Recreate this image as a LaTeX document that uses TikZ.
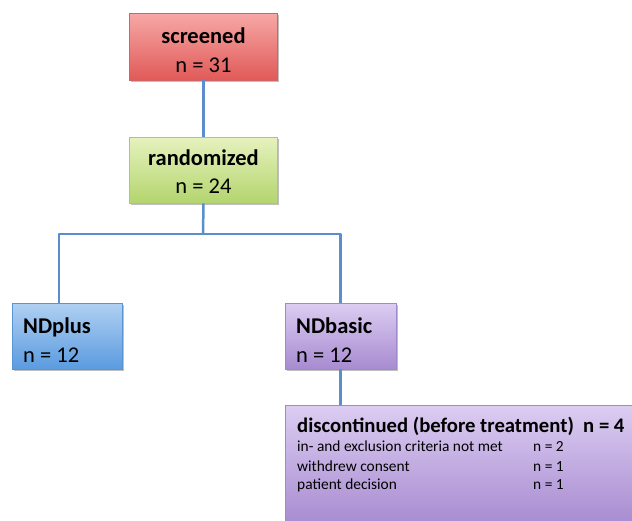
\documentclass[tikz,border=0pt]{standalone}
\usepackage{fontspec}
\setmainfont{Carlito}
\usetikzlibrary{shadows}
\definecolor{redtop}{HTML}{F7A8A6}
\definecolor{redbot}{HTML}{E05A58}
\definecolor{redbd}{HTML}{D06462}
\definecolor{grntop}{HTML}{E6F2BE}
\definecolor{grnbot}{HTML}{B3D56E}
\definecolor{grnbd}{HTML}{AACB68}
\definecolor{blutop}{HTML}{B0D0F2}
\definecolor{blubot}{HTML}{5B9BE0}
\definecolor{blubd}{HTML}{5A94D2}
\definecolor{purtop}{HTML}{DCCDF2}
\definecolor{purbot}{HTML}{A78BD0}
\definecolor{purbd}{HTML}{A088CA}
\definecolor{linkc}{HTML}{5A8FCB}
\tikzset{
  box/.style={rectangle, inner sep=0pt, line width=0.6pt,
    drop shadow={shadow xshift=1.5pt, shadow yshift=-2pt, fill=black, opacity=0.25}},
  redbox/.style={box, draw=redbd, top color=redtop, bottom color=redbot},
  grnbox/.style={box, draw=grnbd, top color=grntop, bottom color=grnbot},
  blubox/.style={box, draw=blubd, top color=blutop, bottom color=blubot},
  purbox/.style={box, draw=purbd, top color=purtop, bottom color=purbot},
  link/.style={draw=linkc, line width=2.5pt},
  big/.style={font=\fontsize{22.5}{27}\selectfont, inner sep=0pt},
  bigb/.style={font=\fontsize{22.5}{27}\selectfont\bfseries, inner sep=0pt},
  midb/.style={font=\fontsize{20.7}{25}\selectfont\bfseries, inner sep=0pt},
  small/.style={font=\fontsize{15.4}{18}\selectfont, inner sep=0pt},
}
\begin{document}
\begin{tikzpicture}[x=1pt,y=-1pt]
\useasboundingbox (0,0) rectangle (632,520);
% boxes
\node[redbox, minimum width=148pt, minimum height=67pt] (scr) at (203.5,46.5) {};
\node[grnbox, minimum width=148pt, minimum height=66pt] (rand) at (203.5,170) {};
\node[blubox, minimum width=110pt, minimum height=66pt] (plus) at (67,336) {};
\node[purbox, minimum width=111pt, minimum height=66pt] (basic) at (340.5,336) {};
\node[purbox, minimum width=352pt, minimum height=120pt] (disc) at (461,465) {};
% connectors
\coordinate (split) at (203,234);
\coordinate (lefttop) at (59,303);
\draw[link] (scr.south) -- (rand.north);
\draw[link] (rand.south) -- (split);
\draw[link, line join=round] (split) -| (lefttop);
\draw[link, line join=round] (split) -| (basic.north);
\draw[link] (basic.south) -- (basic.south |- disc.north);
% texts
\node[bigb, anchor=base] (t1) at (203.5,43) {screened};
\node[big, anchor=base] (t2) at (203.5,72) {n = 31};
\node[bigb, anchor=base] (t3) at (203.5,165) {randomized};
\node[big, anchor=base] (t4) at (203.5,193) {n = 24};
\node[bigb, anchor=base west] (t5) at (23,333) {NDplus};
\node[big, anchor=base west] (t6) at (23,362) {n = 12};
\node[bigb, anchor=base west] (t7) at (296,333) {NDbasic};
\node[big, anchor=base west] (t8) at (296,362) {n = 12};
\node[midb, anchor=base west] (d0) at (297,432) {discontinued (before treatment)};
\node[midb, anchor=base west] (d0n) at (583,432) {n = 4};
\node[small, anchor=base west] (d1) at (297,451) {in- and exclusion criteria not met};
\node[small, anchor=base west] (d1n) at (533,451) {n = 2};
\node[small, anchor=base west] (d2) at (297,471) {withdrew consent};
\node[small, anchor=base west] (d2n) at (533,471) {n = 1};
\node[small, anchor=base west] (d3) at (297,489) {patient decision};
\node[small, anchor=base west] (d3n) at (533,489) {n = 1};
\end{tikzpicture}
\end{document}
